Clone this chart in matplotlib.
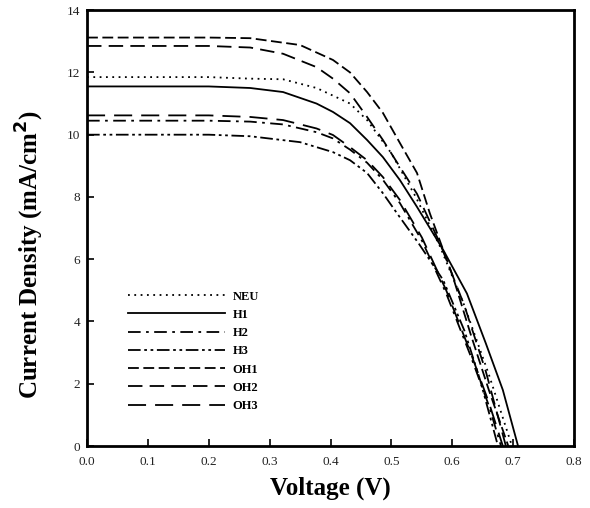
import matplotlib
matplotlib.use("Agg")
import matplotlib.pyplot as plt

plt.rcParams['font.family'] = ['Liberation Serif', 'DejaVu Serif']

# voltage points (V) and current density (mA/cm2)
v_neu = [0.0, 0.1, 0.2, 0.268, 0.322, 0.377, 0.432, 0.46, 0.5, 0.54, 0.58, 0.62, 0.66, 0.698]
j_neu = [11.85, 11.85, 11.85, 11.8, 11.78, 11.5, 11.0, 10.47, 9.4, 8.0, 6.4, 4.5, 2.3, 0.0]

v_h1 = [0.0, 0.1, 0.2, 0.268, 0.322, 0.377, 0.404, 0.432, 0.46, 0.486, 0.514, 0.542,
        0.585, 0.624, 0.655, 0.683, 0.708]
j_h1 = [11.55, 11.55, 11.55, 11.5, 11.37, 11.0, 10.73, 10.37, 9.83, 9.28, 8.54, 7.68,
        6.3, 4.9, 3.3, 1.8, 0.0]

v_h2 = [0.0, 0.1, 0.2, 0.268, 0.322, 0.377, 0.404, 0.432, 0.46, 0.486, 0.514, 0.55,
        0.59, 0.63, 0.66, 0.68]
j_h2 = [10.45, 10.45, 10.45, 10.42, 10.33, 10.08, 9.88, 9.52, 9.1, 8.55, 7.8, 6.6,
        4.9, 2.9, 1.3, 0.0]

v_h3 = [0.0, 0.1, 0.2, 0.268, 0.35, 0.404, 0.432, 0.46, 0.486, 0.509, 0.545, 0.585,
        0.62, 0.646, 0.675]
j_h3 = [10.0, 10.0, 10.0, 9.95, 9.76, 9.44, 9.18, 8.77, 8.12, 7.48, 6.5, 5.33,
        3.7, 2.1, 0.0]

v_oh1 = [0.0, 0.1, 0.2, 0.268, 0.35, 0.404, 0.432, 0.46, 0.486, 0.514, 0.542, 0.563,
         0.6, 0.63, 0.66, 0.692]
j_oh1 = [13.12, 13.12, 13.12, 13.1, 12.88, 12.4, 12.0, 11.37, 10.7, 9.73, 8.77, 7.48,
         5.5, 3.6, 1.8, 0.0]

v_oh2 = [0.0, 0.1, 0.2, 0.268, 0.322, 0.377, 0.404, 0.432, 0.46, 0.486, 0.514, 0.542,
         0.58, 0.62, 0.655, 0.688]
j_oh2 = [12.85, 12.85, 12.85, 12.8, 12.6, 12.17, 11.8, 11.33, 10.57, 9.83, 8.96, 8.1,
         6.5, 4.5, 2.4, 0.0]

v_oh3 = [0.0, 0.1, 0.2, 0.268, 0.322, 0.377, 0.404, 0.432, 0.46, 0.486, 0.514, 0.55,
         0.59, 0.63, 0.66, 0.683]
j_oh3 = [10.62, 10.62, 10.62, 10.57, 10.47, 10.2, 9.99, 9.6, 9.18, 8.64, 7.9, 6.7,
         5.0, 3.0, 1.4, 0.0]

fig = plt.figure(figsize=(5.9, 5.08), dpi=100)
ax = fig.add_axes([0.1475, 0.122, 0.8255, 0.858])

ax.plot(v_neu, j_neu, color='black', lw=1.3, ls=(0, (1, 2.5)), label='NEU')
ax.plot(v_h1, j_h1, color='black', lw=1.3, ls='-', label='H1')
ax.plot(v_h2, j_h2, color='black', lw=1.3, ls=(0, (7, 3, 1.5, 3)), label='H2')
ax.plot(v_h3, j_h3, color='black', lw=1.3, ls=(0, (7, 2, 1.5, 2, 1.5, 2)), label='H3')
ax.plot(v_oh1, j_oh1, color='black', lw=1.3, ls=(0, (6, 2.5)), label='OH1')
ax.plot(v_oh2, j_oh2, color='black', lw=1.3, ls=(0, (8, 4)), label='OH2')
ax.plot(v_oh3, j_oh3, color='black', lw=1.3, ls=(0, (10, 5)), label='OH3')

ax.set_xlim(0, 0.8)
ax.set_ylim(0, 14)
ax.set_xticks([0.0, 0.1, 0.2, 0.3, 0.4, 0.5, 0.6, 0.7, 0.8])
ax.set_xticklabels(['0.0', '0.1', '0.2', '0.3', '0.4', '0.5', '0.6', '0.7', '0.8'])
ax.set_yticks([0, 2, 4, 6, 8, 10, 12, 14])
ax.tick_params(direction='in', length=5, width=1.2, labelsize=9.5, colors='black', labelcolor='#222222')
ax.tick_params(axis='x', pad=7)
ax.tick_params(axis='y', pad=5)
for s in ax.spines.values():
    s.set_linewidth(2)

ax.set_xlabel('Voltage (V)', fontsize=18, fontweight='bold', labelpad=6)
ax.set_ylabel('Current Density (mA/cm$^\\mathbf{2}$)', fontsize=18, fontweight='bold')
ax.yaxis.set_label_coords(-0.084, 0.44)

leg = ax.legend(loc='lower left', bbox_to_anchor=(0.061, 0.052), frameon=False,
                handlelength=7.8, handletextpad=0.55, labelspacing=0.5,
                prop={'weight': 'bold', 'size': 9})

fig.savefig('out.png', dpi=100)
